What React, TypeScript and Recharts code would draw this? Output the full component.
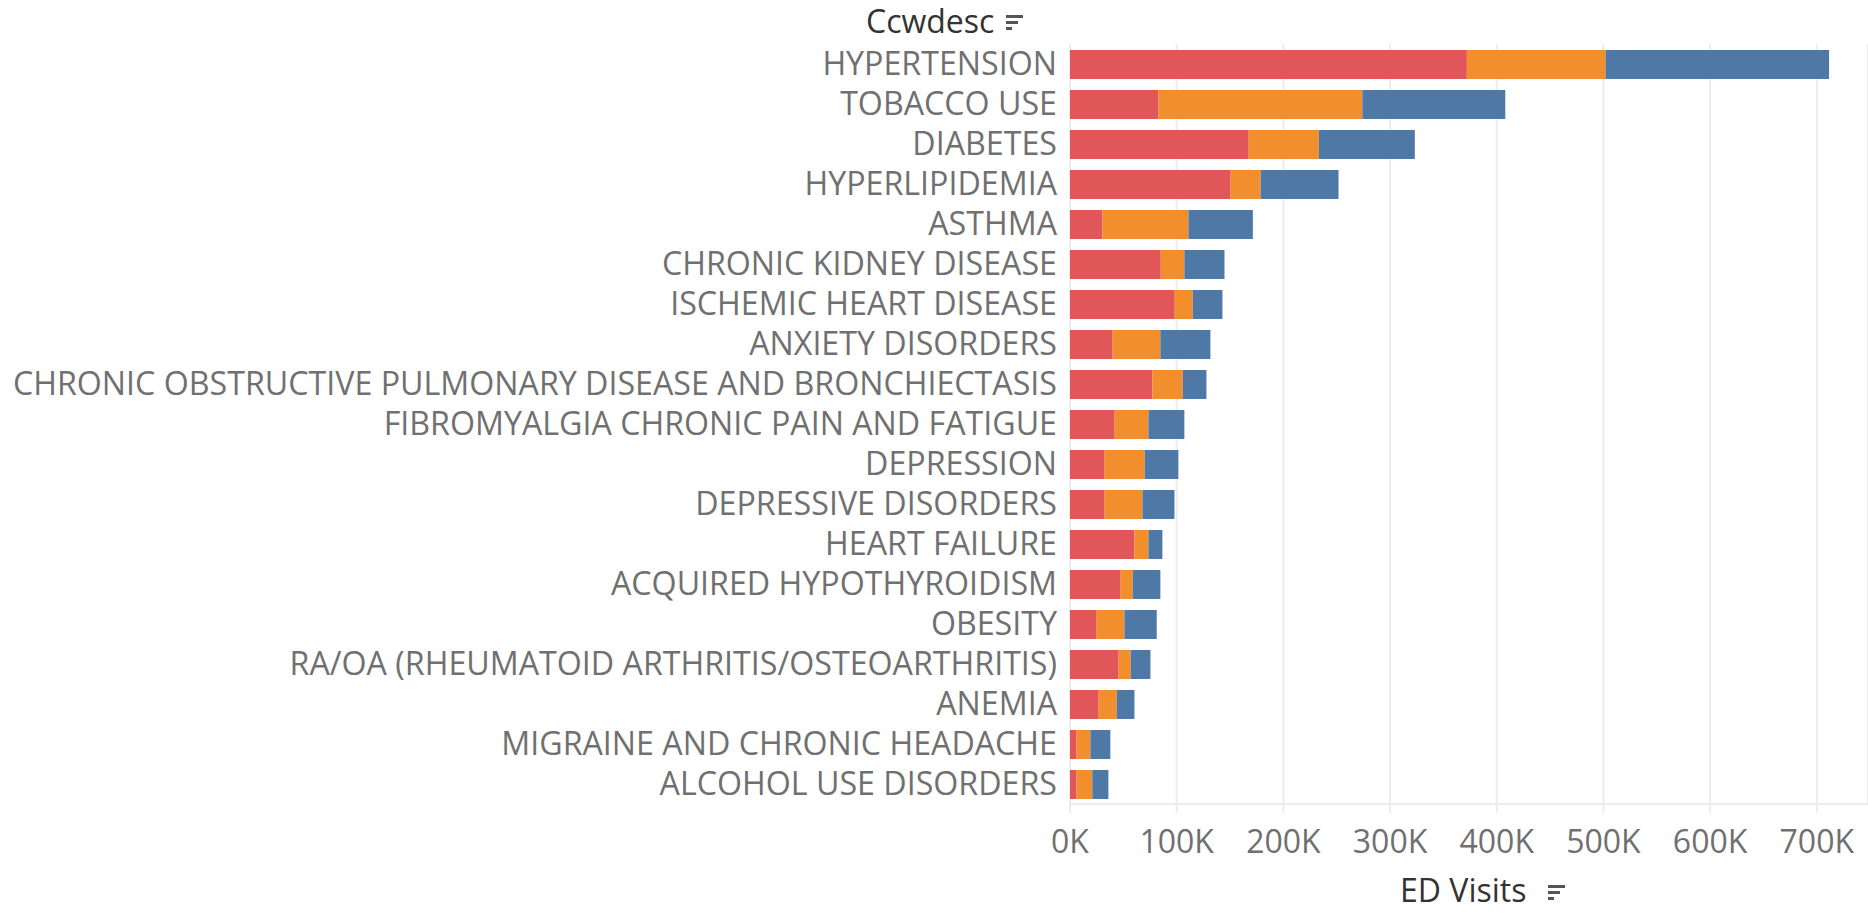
import React from 'react';
import { BarChart, Bar, XAxis, YAxis, CartesianGrid } from 'recharts';

const categories = [
  'HYPERTENSION',
  'TOBACCO USE',
  'DIABETES',
  'HYPERLIPIDEMIA',
  'ASTHMA',
  'CHRONIC KIDNEY DISEASE',
  'ISCHEMIC HEART DISEASE',
  'ANXIETY DISORDERS',
  'CHRONIC OBSTRUCTIVE PULMONARY DISEASE AND BRONCHIECTASIS',
  'FIBROMYALGIA CHRONIC PAIN AND FATIGUE',
  'DEPRESSION',
  'DEPRESSIVE DISORDERS',
  'HEART FAILURE',
  'ACQUIRED HYPOTHYROIDISM',
  'OBESITY',
  'RA/OA (RHEUMATOID ARTHRITIS/OSTEOARTHRITIS)',
  'ANEMIA',
  'MIGRAINE AND CHRONIC HEADACHE',
  'ALCOHOL USE DISORDERS',
];

// ED visits per segment (stacked left to right: red, orange, blue)
const redVisits = [372000, 83000, 167500, 150600, 30300, 85100, 98200, 40000, 77200, 41900, 32500, 32500, 60400, 47500, 25000, 45600, 26900, 6200, 6200];
const orangeVisits = [130000, 191000, 65800, 28100, 80700, 22100, 16900, 44700, 28500, 31600, 37500, 35400, 13100, 11300, 26000, 11300, 16900, 12900, 14700];
const blueVisits = [209500, 134000, 89900, 73000, 60400, 37600, 27800, 46900, 22200, 33700, 31600, 30000, 13100, 25900, 30300, 18500, 16600, 18700, 15100];

const xTicks = [0, 100000, 200000, 300000, 400000, 500000, 600000, 700000];

const data = categories.map((name, i) => ({
  name,
  red: redVisits[i],
  orange: orangeVisits[i],
  blue: blueVisits[i],
}));

const FONT = '"Open Sans", sans-serif';
const labelColor = '#707070';
const gridColor = '#ececec';

const YTick = (props: any) => {
  const { x, y, payload } = props;
  return (
    <text x={x} y={y} dy={11} textAnchor="end" fill={labelColor} fontSize={32.2} fontFamily={FONT}>
      {payload.value}
    </text>
  );
};

const XTick = (props: any) => {
  const { x, y, payload } = props;
  return (
    <text x={x} y={y} dy={38} textAnchor="middle" fill={labelColor} fontSize={32} fontFamily={FONT}>
      {`${payload.value / 1000}K`}
    </text>
  );
};

const SortIcon = ({ left, top }: { left: number; top: number }) => (
  <svg width={22} height={22} style={{ position: 'absolute', left, top }}>
    <rect x={2} y={4} width={17} height={3} fill="#555" />
    <rect x={2} y={10} width={12} height={3} fill="#555" />
    <rect x={2} y={16} width={6} height={3} fill="#555" />
  </svg>
);

const App = () => {
  return (
    <div style={{ position: 'absolute', left: 0, top: 0, width: 1868, height: 914, background: '#fff', fontFamily: FONT, overflow: 'hidden' }}>
      <div style={{ position: 'absolute', left: 866, top: 0, fontSize: 32, color: '#333', lineHeight: '42px' }}>Ccwdesc</div>
      <SortIcon left={1004} top={11} />
      <BarChart
        width={1868}
        height={914}
        data={data}
        layout="vertical"
        barSize={29}
        margin={{ top: 44, right: 0, left: 0, bottom: 0 }}
      >
        <CartesianGrid vertical horizontal={false} stroke={gridColor} strokeWidth={2} />
        <XAxis
          type="number"
          domain={[0, 748000]}
          ticks={xTicks}
          tick={<XTick />}
          axisLine={{ stroke: gridColor, strokeWidth: 2 }}
          tickLine={{ stroke: gridColor, strokeWidth: 2 }}
          tickSize={9}
          height={110}
          interval={0}
        />
        <YAxis
          type="category"
          dataKey="name"
          width={1070}
          tick={<YTick />}
          axisLine={false}
          tickLine={false}
          tickMargin={7}
          interval={0}
        />
        <Bar dataKey="red" name="Series 1" stackId="a" fill="#E15759" isAnimationActive={false} />
        <Bar dataKey="orange" name="Series 2" stackId="a" fill="#F28E2B" isAnimationActive={false} />
        <Bar dataKey="blue" name="Series 3" stackId="a" fill="#4E79A7" isAnimationActive={false} />
      </BarChart>
      <div style={{ position: 'absolute', left: 1400, top: 872, fontSize: 32, color: '#333', lineHeight: '36px' }}>ED Visits</div>
      <SortIcon left={1546} top={881} />
    </div>
  );
};

export default App;
